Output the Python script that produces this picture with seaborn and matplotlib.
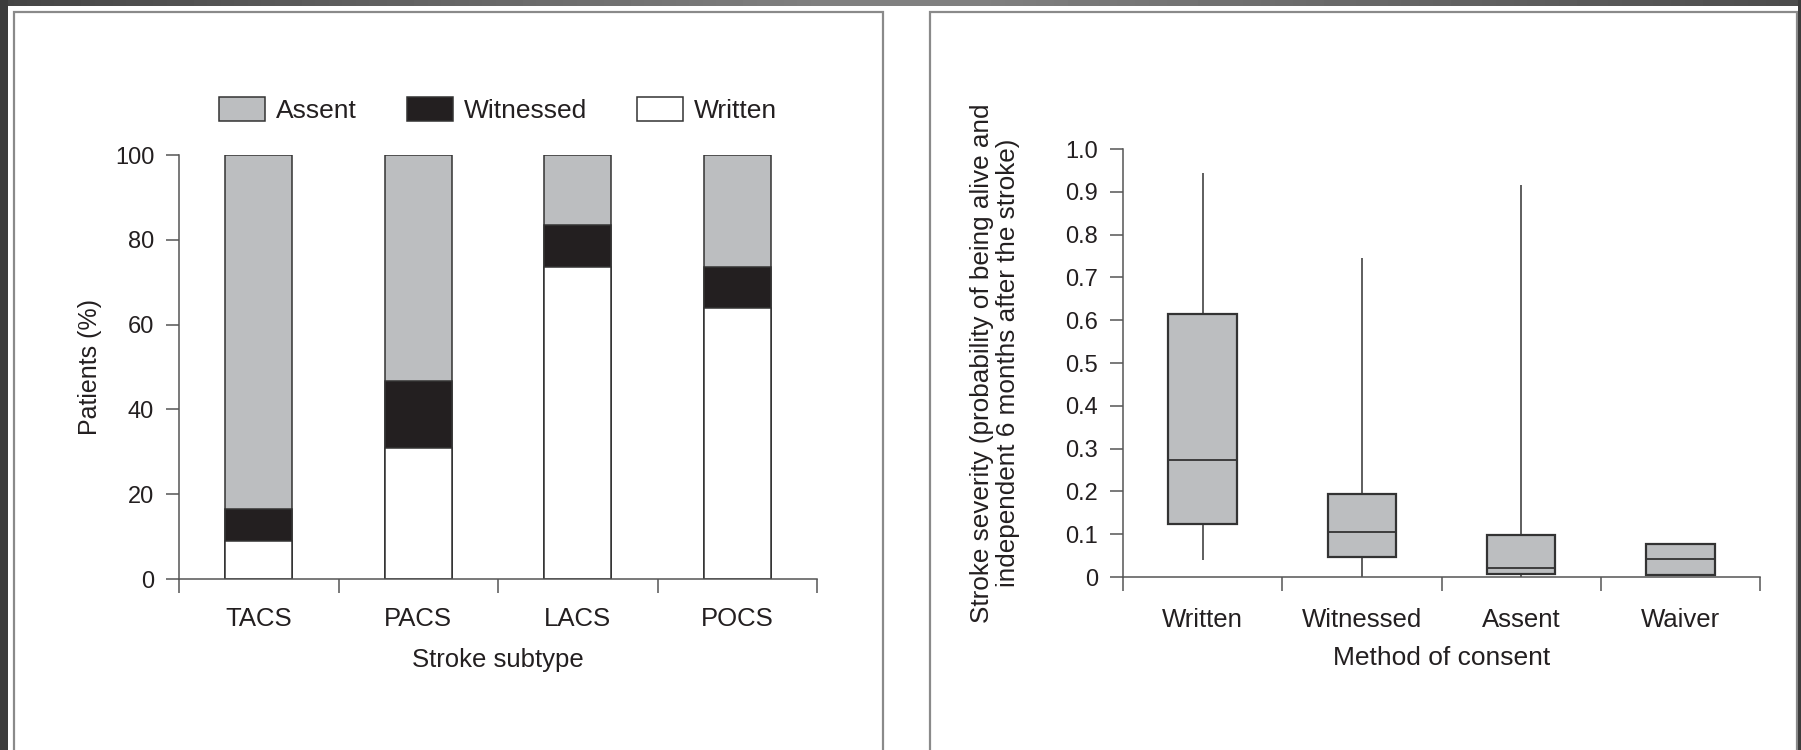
import numpy as np
import pandas as pd
import seaborn as sns
import matplotlib.pyplot as plt
from matplotlib.patches import Patch, Rectangle

# stacked bar data (percent of patients)
subtypes = ["TACS", "PACS", "LACS", "POCS"]
written = [9.0, 30.8, 73.7, 63.8]
witnessed = [7.4, 15.8, 9.8, 9.9]
assent = [83.6, 53.4, 16.5, 26.3]

# box plot five-number summaries
methods = ["Written", "Witnessed", "Assent", "Waiver"]
sev_min = [0.039, 0.0, 0.0, 0.004]
sev_q1 = [0.123, 0.047, 0.008, 0.004]
sev_median = [0.274, 0.105, 0.022, 0.041]
sev_q3 = [0.615, 0.195, 0.099, 0.077]
sev_max = [0.945, 0.746, 0.917, 0.077]

GREY = "#bcbec0"
BLACK = "#231f20"
EDGE = "#333333"
AXC = "#555555"
TXT = "#231f20"

sns.set_style("ticks")
plt.rcParams["font.family"] = ["Liberation Sans", "DejaVu Sans"]
plt.rcParams["text.color"] = TXT
plt.rcParams["axes.labelcolor"] = TXT
plt.rcParams["xtick.color"] = AXC
plt.rcParams["ytick.color"] = AXC
plt.rcParams["xtick.labelcolor"] = TXT
plt.rcParams["ytick.labelcolor"] = TXT

fig = plt.figure(figsize=(18.01, 7.5), dpi=100)
fig.patch.set_facecolor("white")

# page decoration: dark strips and two framed panels
W, H = 1801, 750
fig.add_artist(Rectangle((0, 0), 8 / W, 1, transform=fig.transFigure,
                         facecolor="#3c3c3c", edgecolor="none"))
fig.add_artist(Rectangle((1 - 3 / W, 0), 3 / W, 1, transform=fig.transFigure,
                         facecolor="#3c3c3c", edgecolor="none"))
top = fig.add_axes([0, 1 - 6 / H, 1, 6 / H])
grad = np.interp(np.linspace(0, 1, 400), [0, 0.45, 0.55, 1], [0.27, 0.5, 0.5, 0.3])
top.imshow(grad[None, :], cmap="gray", vmin=0, vmax=1, aspect="auto")
top.set_axis_off()
for x0, x1 in [(14, 883), (930, 1797)]:
    fig.add_artist(Rectangle((x0 / W, -0.05), (x1 - x0) / W, 1.05 - 12 / H,
                             transform=fig.transFigure, facecolor="white",
                             edgecolor="#8a8a8a", linewidth=1.6, zorder=0))


def style_axes(ax, xpad):
    sns.despine(ax=ax)
    for s in ["left", "bottom"]:
        ax.spines[s].set_color(AXC)
        ax.spines[s].set_linewidth(1.1)
    ax.tick_params(axis="y", length=9.4, width=1.1, pad=8.5, labelsize=17)
    ax.tick_params(axis="x", which="major", length=10, width=1.1, labelbottom=False)
    ax.tick_params(axis="x", which="minor", length=0, pad=xpad, labelsize=18.5)
    ax.set_xticks([-0.5, 0.5, 1.5, 2.5, 3.5])
    ax.set_xlim(-0.5, 3.5)


# ---------- left: stacked bars ----------
ax1 = fig.add_axes([179 / W, 1 - 579 / H, 638 / W, 424 / H])
ax1.set_facecolor("white")
bar_df = pd.DataFrame({"subtype": subtypes, "written": written,
                       "witnessed": witnessed, "assent": assent})
bar_df["w_top"] = bar_df["written"] + bar_df["witnessed"]
bar_df["total"] = bar_df["w_top"] + bar_df["assent"]

bar_kw = dict(x="subtype", order=subtypes, width=0.42, edgecolor=EDGE,
              linewidth=1.1, saturation=1, ax=ax1, errorbar=None)
sns.barplot(data=bar_df, y="total", color=GREY, **bar_kw)
sns.barplot(data=bar_df, y="w_top", color=BLACK, **bar_kw)
sns.barplot(data=bar_df, y="written", color="white", **bar_kw)

style_axes(ax1, 20)
ax1.set_ylim(0, 100)
ax1.set_yticks([0, 20, 40, 60, 80, 100])
ax1.set_xticks(range(4), subtypes, minor=True)
ax1.set_xlabel("Stroke subtype", fontsize=18.5)
ax1.set_ylabel("Patients (%)", fontsize=18)
ax1.xaxis.set_label_coords(0.5, -0.163)
ax1.yaxis.set_label_coords(-0.12, 0.5)

handles = [Patch(facecolor=GREY, edgecolor=EDGE, linewidth=1.1, label="Assent"),
           Patch(facecolor=BLACK, edgecolor=EDGE, linewidth=1.1, label="Witnessed"),
           Patch(facecolor="white", edgecolor=EDGE, linewidth=1.1, label="Written")]
ax1.legend(handles=handles, loc="center", bbox_to_anchor=(0.5, 1.106), ncol=3,
           frameon=False, fontsize=19, handlelength=1.75, handleheight=1.05,
           handletextpad=0.4, columnspacing=1.9)

# ---------- right: box plot ----------
ax2 = fig.add_axes([1123 / W, 1 - 577 / H, 637 / W, 428 / H])
ax2.set_facecolor("white")
rows = []
for i, m in enumerate(methods):
    for v in [sev_min[i], sev_q1[i], sev_median[i], sev_q3[i], sev_max[i]]:
        rows.append({"method": m, "severity": v})
box_df = pd.DataFrame(rows)

sns.boxplot(data=box_df, x="method", y="severity", order=methods, whis=(0, 100),
            width=0.43, color=GREY, linecolor=EDGE, linewidth=1.1, saturation=1,
            showcaps=False, showfliers=False, ax=ax2,
            boxprops=dict(linewidth=1.6),
            medianprops=dict(linewidth=1.3),
            whiskerprops=dict(linewidth=1.1))

style_axes(ax2, 22.5)
ax2.set_ylim(0, 1.0)
yt = [0, 0.1, 0.2, 0.3, 0.4, 0.5, 0.6, 0.7, 0.8, 0.9, 1.0]
ax2.set_yticks(yt, ["0"] + [f"{v:.1f}" for v in yt[1:]])
ax2.set_xticks(range(4), methods, minor=True)
ax2.set_xlabel("Method of consent", fontsize=19)
ax2.set_ylabel("Stroke severity (probability of being alive and\n"
               "independent 6 months after the stroke)", fontsize=18.8,
               linespacing=1.1)
ax2.xaxis.set_label_coords(0.5, -0.162)
ax2.yaxis.set_label_coords(-0.162, 0.5)

plt.savefig("out.png", dpi=100)
